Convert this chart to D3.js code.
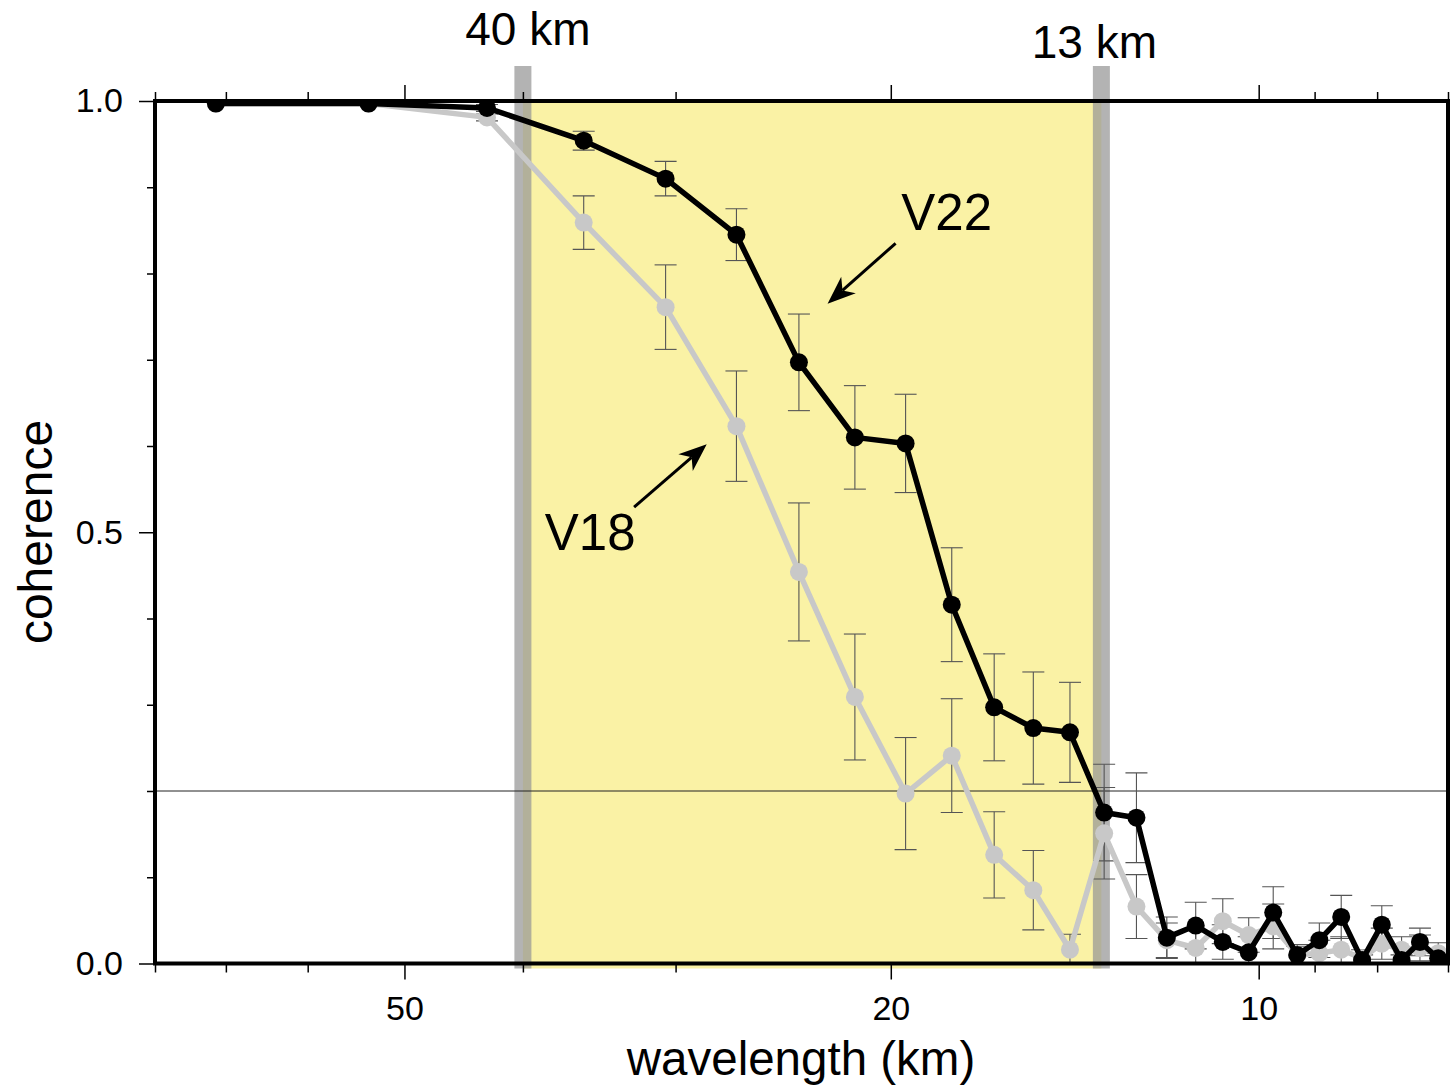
<!DOCTYPE html>
<html><head><meta charset="utf-8">
<script src="https://cdn.jsdelivr.net/npm/d3@7"></script>
<style>body{margin:0;background:#fff}svg{display:block}text{font-family:"Liberation Sans",Arial,Helvetica,sans-serif;fill:#000}</style>
</head><body><svg id="c" width="1450" height="1089"></svg>
<script>
// ---- data ----
const wavelength = [71.33, 53.5, 42.8, 35.67, 30.57, 26.75, 23.78, 21.4, 19.45, 17.83, 16.46, 15.29, 14.27, 13.38, 12.59, 11.89, 11.26, 10.7, 10.19, 9.73, 9.3, 8.92, 8.56, 8.23, 7.93, 7.64, 7.38, 7.13];
const v22 = [0.997, 0.997, 0.992, 0.954, 0.910, 0.845, 0.697, 0.610, 0.603, 0.416, 0.297, 0.273, 0.268, 0.175, 0.169, 0.030, 0.044, 0.025, 0.013, 0.059, 0.010, 0.027, 0.054, 0.004, 0.045, 0.004, 0.025, 0.006];
const v22err = [0, 0, 0.004, 0.011, 0.020, 0.030, 0.056, 0.060, 0.057, 0.066, 0.062, 0.065, 0.058, 0.056, 0.052, 0.024, 0.027, 0.020, 0.018, 0.030, 0.010, 0.020, 0.025, 0.006, 0.022, 0.006, 0.016, 0.006];
const v18 = [0.997, 0.997, 0.981, 0.859, 0.761, 0.623, 0.454, 0.309, 0.197, 0.241, 0.126, 0.085, 0.016, 0.151, 0.066, 0.027, 0.018, 0.049, 0.033, 0.043, 0.010, 0.012, 0.016, 0.006, 0.023, 0.016, 0.018, 0.012];
const v18err = [0, 0, 0.004, 0.031, 0.049, 0.064, 0.080, 0.073, 0.065, 0.066, 0.050, 0.046, 0.018, 0.053, 0.037, 0.020, 0.020, 0.026, 0.020, 0.026, 0.012, 0.015, 0.015, 0.010, 0.018, 0.015, 0.015, 0.012];
const xMajorTicks = [50, 20, 10];
const xMinorTicks = [80, 70, 60, 40, 30, 9, 8, 7];
const yMajorTicks = [0, 0.5, 1.0];
const yMinorTicks = [0.1, 0.2, 0.3, 0.4, 0.6, 0.7, 0.8, 0.9];
const bandLimits = [40, 13.45];
const bandLabels = ["40 km", "13 km"];
const threshold = 0.2;
const annotations = [
  {text: "V22", at: [18.0, 0.850], from: [19.82, 0.835], to: [22.53, 0.765]},
  {text: "V18", at: [35.24, 0.479], from: [32.44, 0.529], to: [28.29, 0.602]}
];

// ---- layout ----
const svg = d3.select("#c");
svg.append("rect").attr("width", 1450).attr("height", 1089).attr("fill", "#fff");
const L = 155, R = 1448, T = 101, B = 963.5;
const x = d3.scaleLog().domain([80, 7]).range([L, R]);
const y = d3.scaleLinear().domain([0, 1]).range([B, T]);

// yellow band
svg.append("rect")
  .attr("x", x(bandLimits[0])).attr("y", T)
  .attr("width", x(bandLimits[1]) - x(bandLimits[0]))
  .attr("height", B + 5 - T)
  .attr("fill", "#faf2a5");

// gray bars
svg.selectAll("rect.bar").data(bandLimits).join("rect")
  .attr("class", "bar")
  .attr("x", d => x(d) - 8.5).attr("y", 66)
  .attr("width", 17).attr("height", B + 5 - 66)
  .attr("fill", "rgb(150,150,150)").attr("fill-opacity", 0.72);

svg.selectAll("text.blab").data(bandLabels).join("text")
  .attr("class", "blab")
  .attr("x", (d, i) => x(bandLimits[i]) + (i === 0 ? 5 : -7))
  .attr("y", (d, i) => i === 0 ? 45 : 58)
  .attr("text-anchor", "middle")
  .attr("font-size", 46)
  .text(d => d);

// clip
svg.append("clipPath").attr("id", "clip").append("rect")
  .attr("x", L).attr("y", T).attr("width", R - L).attr("height", B - T);
const plot = svg.append("g").attr("clip-path", "url(#clip)");

// threshold line
plot.append("line")
  .attr("x1", L).attr("x2", R)
  .attr("y1", y(threshold)).attr("y2", y(threshold))
  .attr("stroke", "#222").attr("stroke-width", 1);

// error bars
function errorBars(vals, errs) {
  const g = plot.append("g").attr("stroke", "#555").attr("stroke-width", 1.1);
  wavelength.forEach((w, i) => {
    const e = errs[i];
    if (!e) return;
    const cx = x(w), y1 = y(vals[i] - e), y2 = y(vals[i] + e);
    g.append("line").attr("x1", cx).attr("x2", cx).attr("y1", y1).attr("y2", y2);
    g.append("line").attr("x1", cx - 11).attr("x2", cx + 11).attr("y1", y1).attr("y2", y1);
    g.append("line").attr("x1", cx - 11).attr("x2", cx + 11).attr("y1", y2).attr("y2", y2);
  });
}
errorBars(v18, v18err);
errorBars(v22, v22err);

// series
const line = d3.line().x(d => x(d[0])).y(d => y(d[1]));
function series(vals, color) {
  const pts = wavelength.map((w, i) => [w, vals[i]]);
  plot.append("path").datum(pts).attr("d", line)
    .attr("fill", "none").attr("stroke", color).attr("stroke-width", 5.5)
    .attr("stroke-linejoin", "round");
  plot.append("g").selectAll("circle").data(pts).join("circle")
    .attr("cx", d => x(d[0])).attr("cy", d => y(d[1])).attr("r", 9)
    .attr("fill", color);
}
series(v18, "#c8c8c8");
series(v22, "#000");

// frame
svg.append("rect").attr("x", L).attr("y", T).attr("width", R - L).attr("height", B - T)
  .attr("fill", "none").attr("stroke", "#000").attr("stroke-width", 4);

// axes
function styleAxis(g) {
  g.select(".domain").remove();
  g.selectAll(".tick line").attr("stroke", "#000").attr("stroke-width", 1.5);
  g.selectAll("text").attr("font-size", 34).attr("fill", "#000")
    .attr("font-family", '"Liberation Sans", Arial, Helvetica, sans-serif');
}
svg.append("g").attr("transform", `translate(0,${B})`)
  .call(d3.axisBottom(x).tickValues(xMajorTicks).tickSize(16).tickPadding(16).tickFormat(d3.format("d")))
  .call(styleAxis);
svg.append("g").attr("transform", `translate(0,${B})`)
  .call(d3.axisBottom(x).tickValues(xMinorTicks).tickSize(9).tickFormat(""))
  .call(styleAxis);
svg.append("g").attr("transform", `translate(0,${T})`)
  .call(d3.axisTop(x).tickValues(xMajorTicks).tickSize(16).tickFormat(""))
  .call(styleAxis);
svg.append("g").attr("transform", `translate(0,${T})`)
  .call(d3.axisTop(x).tickValues(xMinorTicks).tickSize(9).tickFormat(""))
  .call(styleAxis);
svg.append("g").attr("transform", `translate(${L},0)`)
  .call(d3.axisLeft(y).tickValues(yMajorTicks).tickSize(16).tickPadding(16).tickFormat(d3.format(".1f")))
  .call(styleAxis);
svg.append("g").attr("transform", `translate(${L},0)`)
  .call(d3.axisLeft(y).tickValues(yMinorTicks).tickSize(8).tickFormat(""))
  .call(styleAxis);

// axis titles
svg.append("text").attr("x", 801).attr("y", 1075)
  .attr("text-anchor", "middle").attr("font-size", 47.5).text("wavelength (km)");
svg.append("text").attr("transform", `translate(52,532) rotate(-90)`)
  .attr("text-anchor", "middle").attr("font-size", 48).text("coherence");

// annotations
annotations.forEach(a => {
  svg.append("text").attr("x", x(a.at[0])).attr("y", y(a.at[1]))
    .attr("text-anchor", "middle").attr("font-size", 51).text(a.text);
  const x0 = x(a.from[0]), y0 = y(a.from[1]), x1 = x(a.to[0]), y1 = y(a.to[1]);
  const dx = x1 - x0, dy = y1 - y0, len = Math.hypot(dx, dy);
  const ux = dx / len, uy = dy / len, px = -uy, py = ux;
  const headLen = 28, headW = 11, notch = 20;
  svg.append("line").attr("x1", x0).attr("y1", y0)
    .attr("x2", x1 - ux * notch).attr("y2", y1 - uy * notch)
    .attr("stroke", "#000").attr("stroke-width", 3);
  const bx = x1 - ux * headLen, by = y1 - uy * headLen;
  const pts = [
    [x1, y1],
    [bx + px * headW, by + py * headW],
    [x1 - ux * notch, y1 - uy * notch],
    [bx - px * headW, by - py * headW]
  ];
  svg.append("path").attr("d", "M" + pts.map(p => p.join(",")).join("L") + "Z").attr("fill", "#000");
});
</script>
</body></html>
